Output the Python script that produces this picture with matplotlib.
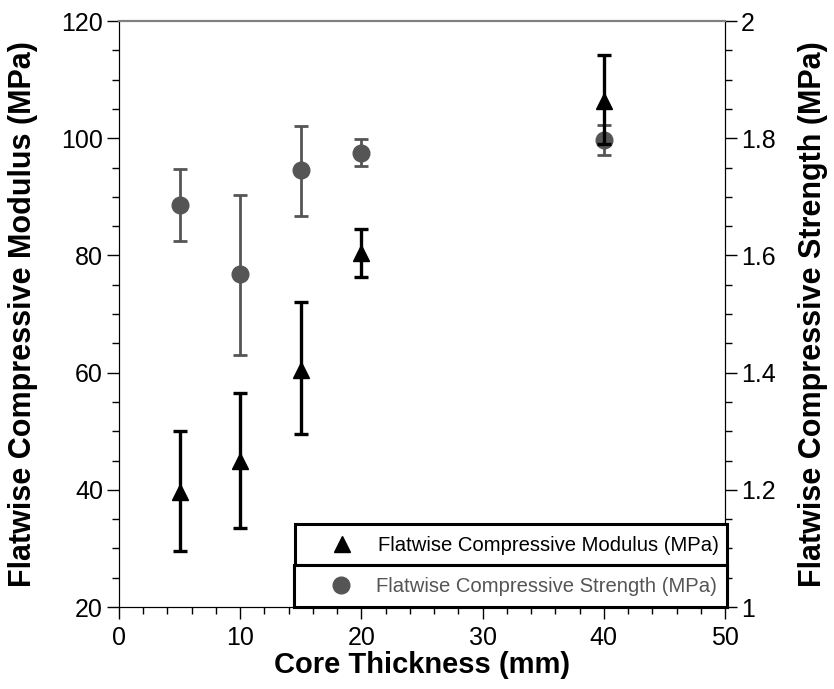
"""Flatwise compressive modulus and strength against core thickness."""

import matplotlib

matplotlib.use("Agg")
import matplotlib.pyplot as plt
from matplotlib.lines import Line2D
from matplotlib.ticker import FormatStrFormatter, MultipleLocator

plt.rcParams["font.family"] = ["Liberation Sans", "DejaVu Sans"]

thickness = [5, 10, 15, 20, 40]
modulus = [39.6, 44.9, 60.5, 80.4, 106.4]
modulus_low = [29.5, 33.5, 49.6, 76.4, 99.0]
modulus_high = [50.0, 56.6, 72.0, 84.5, 114.2]
strength = [1.686, 1.568, 1.745, 1.775, 1.797]
strength_low = [1.625, 1.430, 1.668, 1.752, 1.772]
strength_high = [1.747, 1.703, 1.820, 1.798, 1.822]

_INK = "#000000"
_GRAY = "#555555"
_SPINE_GRAY = "#808080"

fig = plt.figure(figsize=(8.34, 6.89), dpi=100)
ax = fig.add_axes([0.1427, 0.119, 0.7266, 0.8505])
ax2 = ax.twinx()

# strength first so the modulus triangles sit on top
ax2.errorbar(
    thickness,
    strength,
    yerr=[
        [s - lo for s, lo in zip(strength, strength_low)],
        [hi - s for s, hi in zip(strength, strength_high)],
    ],
    fmt="o",
    color=_GRAY,
    ecolor=_GRAY,
    markersize=12,
    elinewidth=2,
    capsize=5,
    capthick=2,
)
ax.errorbar(
    thickness,
    modulus,
    yerr=[
        [m - lo for m, lo in zip(modulus, modulus_low)],
        [hi - m for m, hi in zip(modulus, modulus_high)],
    ],
    fmt="^",
    color=_INK,
    ecolor=_INK,
    markersize=12,
    elinewidth=2.4,
    capsize=5,
    capthick=2.4,
)
ax.set_zorder(ax2.get_zorder() + 1)
ax.patch.set_visible(False)

ax.set_xlim(0, 50)
ax.set_ylim(20, 120)
ax2.set_ylim(1, 2)
ax.xaxis.set_major_locator(MultipleLocator(10))
ax.xaxis.set_minor_locator(MultipleLocator(2))
ax.yaxis.set_major_locator(MultipleLocator(20))
ax.yaxis.set_minor_locator(MultipleLocator(5))
ax2.yaxis.set_major_locator(MultipleLocator(0.2))
ax2.yaxis.set_minor_locator(MultipleLocator(0.05))
ax2.yaxis.set_major_formatter(FormatStrFormatter("%g"))

for a in (ax, ax2):
    a.tick_params(which="major", direction="out", length=8.5, width=1, labelsize=18)
    a.tick_params(which="minor", direction="out", length=5, width=1)
    a.spines["top"].set_color(_SPINE_GRAY)
    a.spines["top"].set_linewidth(1.5)
    for side in ("left", "right", "bottom"):
        a.spines[side].set_color(_INK)
ax.tick_params(axis="x", pad=5)
ax.tick_params(axis="y", pad=3)
ax2.tick_params(axis="y", pad=3)

bold = dict(fontsize=22, fontweight="bold")
ax.set_xlabel("Core Thickness (mm)", labelpad=1, fontsize=21, fontweight="bold")
ax.set_ylabel("Flatwise Compressive Modulus (MPa)", labelpad=17, **bold)
ax2.set_ylabel("Flatwise Compressive Strength (MPa)", labelpad=16, **bold)

# two stacked single-entry boxes, as in the source figure
entries = [
    ("^", _INK, "Flatwise Compressive Modulus (MPa)", (0.291, 0.0700, 0.712, 0.07)),
    ("o", _GRAY, "Flatwise Compressive Strength (MPa)", (0.289, 0.0, 0.714, 0.07)),
]
for marker, color, label, anchor in entries:
    handle = Line2D([], [], marker=marker, color=color, linestyle="none", markersize=12)
    leg = ax.legend(
        [handle],
        [label],
        loc="lower left",
        bbox_to_anchor=anchor,
        mode="expand",
        fontsize=14.6,
        labelcolor=color,
        fancybox=False,
        framealpha=1,
        edgecolor=_INK,
        borderpad=0.56,
        handlelength=3.5,
        handletextpad=0.0,
        borderaxespad=0,
    )
    leg.get_frame().set_linewidth(2.2)
    ax.add_artist(leg)

fig.savefig("out.png", dpi=100, facecolor="white")
plt.close(fig)
